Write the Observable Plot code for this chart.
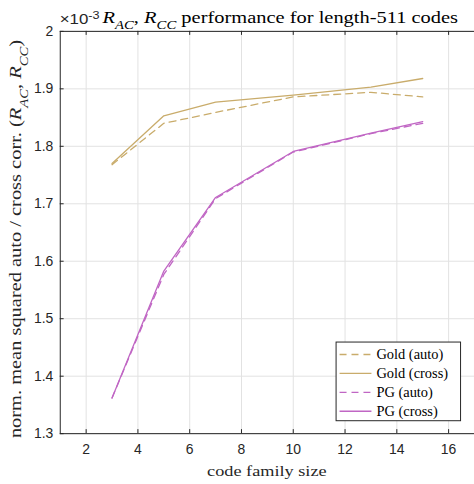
<!DOCTYPE html>
<html><head><meta charset="utf-8">
<script src="https://cdn.jsdelivr.net/npm/d3@7"></script>
<script src="https://cdn.jsdelivr.net/npm/@observablehq/plot@0.6"></script>
<style>
html,body{margin:0;padding:0;background:#fff;overflow:hidden;width:474px;height:484px}
#chart{position:relative;width:474px;height:484px;overflow:hidden}
</style></head><body><div id="chart"></div>
<script>
// data (values in units of 1e-3)
const familySize = [3, 5, 7, 10, 13, 15];
const goldAuto  = [1.768, 1.840, 1.859, 1.886, 1.894, 1.886];
const goldCross = [1.770, 1.853, 1.877, 1.889, 1.903, 1.918];
const pgAuto    = [1.362, 1.577, 1.709, 1.790, 1.822, 1.840];
const pgCross   = [1.362, 1.583, 1.711, 1.791, 1.823, 1.843];
const seriesNames = ["Gold (auto)", "Gold (cross)", "PG (auto)", "PG (cross)"];
const seriesValues = [goldAuto, goldCross, pgAuto, pgCross];
const seriesColors = ["#c9ac6b", "#c9ac6b", "#c066c4", "#c066c4"];
const seriesDash = ["7,5", null, "7,5", null];
const xTicks = [2, 4, 6, 8, 10, 12, 14, 16];
const yTicks = [1.3, 1.4, 1.5, 1.6, 1.7, 1.8, 1.9, 2];

const rows = [];
seriesNames.forEach((s, i) => familySize.forEach((x, j) => rows.push({series: s, x, y: seriesValues[i][j]})));

const axisColor = "#262626";
const sans = "Liberation Sans, Arial, sans-serif";
const serif = "Liberation Serif, serif";

const marks = [
  Plot.ruleX(xTicks, {x: d => d, stroke: "#e2e2e2", strokeWidth: 1}),
  Plot.ruleY(yTicks, {y: d => d, stroke: "#e2e2e2", strokeWidth: 1}),
  Plot.ruleX(xTicks, {x: d => d, y1: 1.3, y2: 1.307, stroke: axisColor}),
  Plot.ruleX(xTicks, {x: d => d, y1: 2, y2: 1.993, stroke: axisColor}),
  Plot.ruleY(yTicks, {y: d => d, x1: 1, x2: 1.15, stroke: axisColor}),
];
seriesNames.forEach((s, i) => {
  marks.push(Plot.line(rows.filter(r => r.series === s), {
    x: "x", y: "y", stroke: seriesColors[i], strokeWidth: 1.3,
    strokeDasharray: seriesDash[i] || undefined
  }));
});
marks.push(Plot.frame({stroke: axisColor, strokeWidth: 1}));
marks.push(Plot.axisX(xTicks, {anchor: "bottom", tickSize: 0, tickPadding: 10, fontSize: 14, fill: axisColor, label: null}));
marks.push(Plot.axisY(yTicks, {anchor: "left", tickSize: 0, tickPadding: 7, fontSize: 14, fill: axisColor, label: null, tickFormat: d => String(d)}));

const svg = Plot.plot({
  width: 476, height: 484,
  marginLeft: 60, marginRight: 0, marginTop: 31, marginBottom: 49,
  x: {domain: [1, 17]},
  y: {domain: [1.3, 2]},
  style: {fontFamily: sans, background: "#fff"},
  marks
});
document.getElementById("chart").appendChild(svg);

const S = d3.select(svg);
function rich(g, parts) {
  parts.forEach(p => {
    const t = g.append("tspan").text(p[0]);
    if (p[1] && p[1].includes("i")) t.attr("font-style", "italic");
    if (p[1] && p[1].includes("sub")) t.attr("font-size", "0.72em").attr("baseline-shift", "sub");
    if (p[1] && p[1].includes("sup")) t.attr("font-size", "0.75em").attr("baseline-shift", "super");
  });
}
// exponent label
const ex = S.append("text").attr("x", 60).attr("y", 24).attr("text-anchor", "start")
  .attr("font-family", sans).attr("font-size", 14).attr("fill", axisColor)
  .attr("textLength", 40).attr("lengthAdjust", "spacingAndGlyphs");
rich(ex, [["×10"], ["-3", "sup"]]);
// title
const ti = S.append("text").attr("x", 103).attr("y", 23).attr("text-anchor", "start")
  .attr("font-family", serif).attr("font-size", 16).attr("fill", "#000")
  .attr("textLength", 357).attr("lengthAdjust", "spacingAndGlyphs");
rich(ti, [["R", "i"], ["AC", "i sub"], [", "], ["R", "i"], ["CC", "i sub"], [" performance for length-511 codes"]]);
// x label
S.append("text").attr("x", 268).attr("y", 478).attr("text-anchor", "middle")
  .attr("font-family", serif).attr("font-size", 15.5).attr("fill", axisColor)
  .attr("textLength", 120).attr("lengthAdjust", "spacingAndGlyphs").text("code family size");
// y label
const yl = S.append("text").attr("transform", "translate(21,240) rotate(-90)").attr("text-anchor", "middle")
  .attr("font-family", serif).attr("font-size", 16.5).attr("fill", axisColor)
  .attr("textLength", 400).attr("lengthAdjust", "spacingAndGlyphs");
rich(yl, [["norm. mean squared auto / cross corr. ("], ["R", "i"], ["AC", "i sub"], [", "], ["R", "i"], ["CC", "i sub"], [")"]]);
// legend
const lg = S.append("g");
lg.append("rect").attr("x", 337.5).attr("y", 343.5).attr("width", 125).attr("height", 79).attr("fill", "#fff").attr("stroke", axisColor);
seriesNames.forEach((s, i) => {
  const yy = 356 + i * 19;
  lg.append("line").attr("x1", 341).attr("x2", 373).attr("y1", yy).attr("y2", yy)
    .attr("stroke", seriesColors[i]).attr("stroke-width", 1.3).attr("stroke-dasharray", seriesDash[i] || null);
  lg.append("text").attr("x", 378).attr("y", yy + 4.5).attr("text-anchor", "start")
    .attr("font-family", serif).attr("font-size", 14.5).attr("fill", "#000").text(s);
});
</script></body></html>
